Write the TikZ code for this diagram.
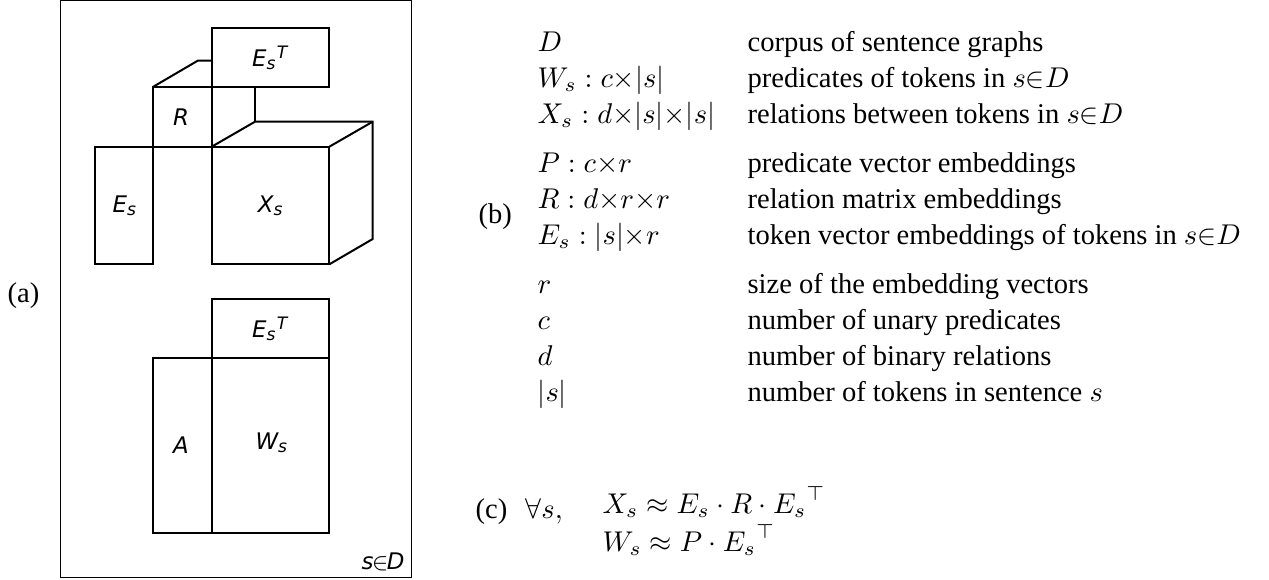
\documentclass[tikz,border=0pt]{standalone}
\usepackage{amsmath, amssymb}
\usepackage[no-math]{fontspec}
\setmainfont{Liberation Serif}
\newfontfamily\boxfont{DejaVu Sans}
\usetikzlibrary{positioning}
\tikzset{
  panelframe/.style={draw=black, line width=0.5pt},
  mline/.style={draw=black, line width=0.7pt, line join=miter},
  lbl/.style={inner sep=0pt, font=\boxfont\itshape\fontsize{8}{9.6}\selectfont},
  sym/.style={anchor=base west, inner sep=0pt, font=\fontsize{10}{12}\selectfont},
  desc/.style={anchor=base west, inner sep=0pt, font=\fontsize{10}{12}\selectfont}
}

\begin{document}
\begin{tikzpicture}[x=0.35pt, y=-0.35pt]
  \useasboundingbox (0,0) rectangle (1269,579);

  % (a) the factorisation
  \node[sym] (lab-a) at (7,302) {(a)};
  \draw[panelframe] (60.5,0.5) rectangle (411.5,577.5);
  \draw[mline] (211.7,28.3) rectangle (329.3,86.7);
  \draw[mline] (153.3,86.7) rectangle (211.7,146.7);
  \draw[mline] (95,146.7) rectangle (153.3,264.3);
  \draw[mline] (211.7,146.7) rectangle (329.3,264.3);
  \draw[mline] (153.3,86.7) -- (197.7,60.7) -- (211.7,60.7);
  \draw[mline] (255,86.7) -- (255,121.7);
  \draw[mline] (211.7,146.7) -- (255,121.7) -- (372.7,121.7) -- (372.7,239) -- (329.3,264.3);
  \draw[mline] (329.3,146.7) -- (372.7,121.7);
  \node[lbl] (EsT-x) at (270.5,57.5) {E\textsubscript{s}\textsuperscript{T}};
  \node[lbl] (R-x) at (181,116.7) {R};
  \node[lbl] (Es-x) at (125,205.5) {E\textsubscript{s}};
  \node[lbl] (Xs-x) at (271,205.5) {X\textsubscript{s}};

  \draw[mline] (211.7,299.3) rectangle (329.3,357.7);
  \draw[mline] (153.3,357.7) rectangle (211.7,533.3);
  \draw[mline] (211.7,357.7) rectangle (329.3,533.3);
  \node[lbl] (EsT-w) at (270.5,328.5) {E\textsubscript{s}\textsuperscript{T}};
  \node[lbl] (A-w) at (181,445.5) {A};
  \node[lbl] (Ws-w) at (272,443) {W\textsubscript{s}};
  \node[lbl] (plate) at (383,562) {s\kern-0.5pt$\in$\kern-0.5pt D};

  % (b) the symbols
  \node[sym] (lab-b) at (478,223) {(b)};
  \node[sym] (sym-D) at (537,51) {$D$};
  \node[desc] (desc-D) at (747,51) {corpus of sentence graphs};
  \node[sym] (sym-W) at (537,87) {$W_s : c{\times}|s|$};
  \node[desc] (desc-W) at (747,87) {predicates of tokens in $s{\in}D$};
  \node[sym] (sym-X) at (537,123) {$X_s : d{\times}|s|{\times}|s|$};
  \node[desc] (desc-X) at (747,123) {relations between tokens in $s{\in}D$};
  \node[sym] (sym-P) at (537,172) {$P : c{\times}r$};
  \node[desc] (desc-P) at (747,172) {predicate vector embeddings};
  \node[sym] (sym-R) at (537,208) {$R : d{\times}r{\times}r$};
  \node[desc] (desc-R) at (747,208) {relation matrix embeddings};
  \node[sym] (sym-E) at (537,244) {$E_s : |s|{\times}r$};
  \node[desc] (desc-E) at (747,244) {token vector embeddings of tokens in $s{\in}D$};
  \node[sym] (sym-r) at (537,293) {$r$};
  \node[desc] (desc-r) at (747,293) {size of the embedding vectors};
  \node[sym] (sym-c) at (537,329) {$c$};
  \node[desc] (desc-c) at (747,329) {number of unary predicates};
  \node[sym] (sym-d) at (537,365) {$d$};
  \node[desc] (desc-d) at (747,365) {number of binary relations};
  \node[sym] (sym-s) at (537,401) {$|s|$};
  \node[desc] (desc-s) at (747,401) {number of tokens in sentence $s$};

  % (c) the approximations
  \node[sym] (lab-c) at (475,518) {(c)};
  \node[sym] (forall) at (525,518) {$\forall s,$};
  \node[sym] (eq-X) at (602,513) {$X_s \approx E_s \cdot R \cdot {E_s}^{\top}$};
  \node[sym] (eq-W) at (602,551) {$W_s \approx P \cdot {E_s}^{\top}$};
\end{tikzpicture}
\end{document}
